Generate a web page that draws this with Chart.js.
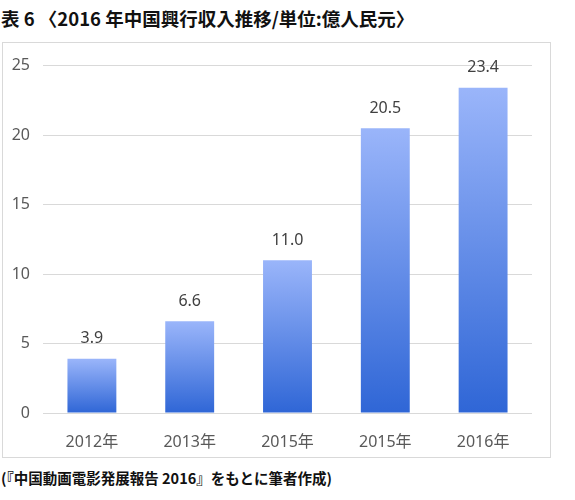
<!DOCTYPE html>
<html>
<head>
<meta charset="utf-8">
<script src="https://cdn.jsdelivr.net/npm/chart.js@4"></script>
<style>
    body { margin: 0; background: #fff; width: 575px; height: 500px; position: relative; overflow: hidden;
           font-family: "Noto Sans CJK JP", "Noto Sans", sans-serif; }
    #title { position: absolute; left: 1px; top: 5px; font-size: 18.5px; font-weight: bold; color: #111; white-space: nowrap; }
    #box { position: absolute; left: 2px; top: 42px; width: 547px; height: 414px; border: 1px solid #d9d9d9; }
    #footer { position: absolute; left: 1px; top: 467px; font-size: 14.5px; font-weight: bold; color: #111; white-space: nowrap; }
</style>
</head>
<body>
<div id="title">表 6 〈2016 年中国興行収入推移/単位:億人民元〉</div>
<div id="box"><canvas id="chart" width="547" height="414"></canvas></div>
<div id="footer">(『中国動画電影発展報告 2016』をもとに筆者作成)</div>
<script>
const categories = ['2012年', '2013年', '2015年', '2015年', '2016年'];
const revenue = [3.9, 6.6, 11.0, 20.5, 23.4];
const yTicks = [0, 5, 10, 15, 20, 25];

const tickFont = { family: '"Noto Sans", "Noto Sans CJK JP", sans-serif', size: 16 };

function barGradient(context) {
    const chart = context.chart;
    const area = chart.chartArea;
    if (!area || context.dataIndex === undefined) return '#6a8ee6';
    const y = chart.scales.y;
    const top = y.getPixelForValue(revenue[context.dataIndex]);
    const bottom = y.getPixelForValue(0);
    const g = chart.ctx.createLinearGradient(0, top, 0, bottom);
    g.addColorStop(0, '#9ab5fa');
    g.addColorStop(1, '#2f66d6');
    return g;
}

const valueLabels = {
    id: 'valueLabels',
    afterDatasetsDraw(chart) {
        const ctx = chart.ctx;
        const meta = chart.getDatasetMeta(0);
        ctx.save();
        ctx.font = '16px "Noto Sans", sans-serif';
        ctx.fillStyle = '#404040';
        ctx.textAlign = 'center';
        ctx.textBaseline = 'bottom';
        meta.data.forEach((bar, i) => {
            ctx.fillText(revenue[i].toFixed(1), bar.x, bar.y - 12);
        });
        ctx.restore();
    }
};

new Chart(document.getElementById('chart'), {
    type: 'bar',
    data: {
        labels: categories,
        datasets: [{
            data: revenue,
            backgroundColor: barGradient,
            borderWidth: 0,
            categoryPercentage: 1,
            barPercentage: 0.5
        }]
    },
    options: {
        responsive: false,
        animation: false,
        devicePixelRatio: 1,
        layout: { padding: { top: 20, right: 18, left: 0, bottom: 0 } },
        plugins: { legend: { display: false }, tooltip: { enabled: false } },
        scales: {
            x: {
                grid: { display: false },
                border: { display: false },
                ticks: { color: '#595959', font: tickFont, padding: 12 },
                afterFit(scale) { scale.height = 44; }
            },
            y: {
                min: 0,
                max: 25,
                afterBuildTicks(scale) { scale.ticks = yTicks.map(v => ({ value: v })); },
                grid: { color: '#d9d9d9', drawTicks: false },
                border: { display: false },
                ticks: { color: '#595959', font: tickFont, padding: 13 },
                afterFit(scale) { scale.width = 40; }
            }
        }
    },
    plugins: [valueLabels]
});
</script>
</body>
</html>
